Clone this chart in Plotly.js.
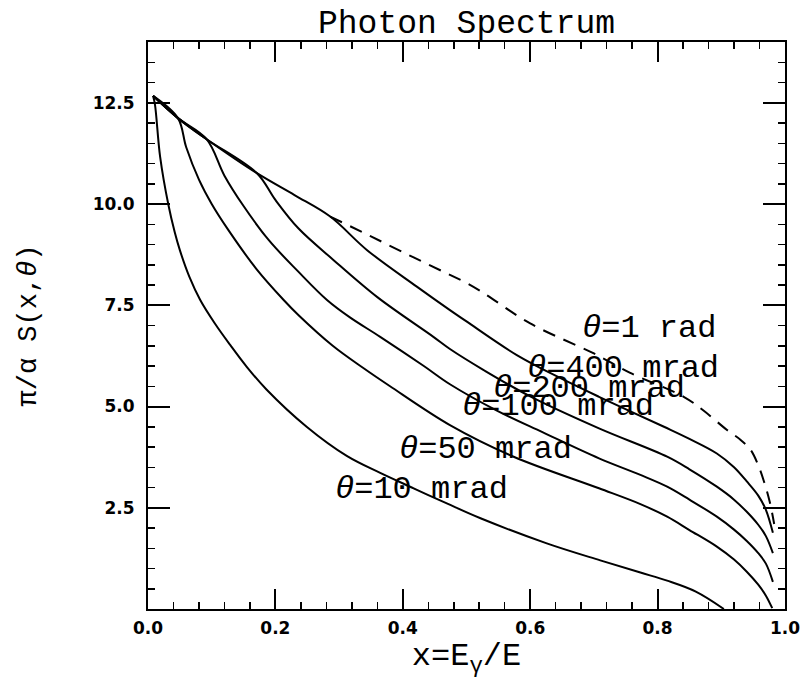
<!DOCTYPE html>
<html>
<head>
<meta charset="utf-8">
<script src="https://cdn.plot.ly/plotly-3.0.1.min.js"></script>
<style>body{margin:0;background:#fff;}#chart{width:804px;height:681px;}</style>
</head>
<body>
<div id="chart"></div>
<script>
// ---- data ----
const x10 = [0.008,0.011,0.019,0.032,0.042,0.050,0.065,0.082,0.105,0.129,0.155,0.186,0.249,0.312,0.3645,0.417,0.47,0.522,0.626,0.71,0.773,0.815,0.86,0.904];
const y10 = [12.67,12.45,11.17,9.98,9.3,8.86,8.2,7.63,7.05,6.52,5.98,5.42,4.5,3.78,3.36,2.98,2.6,2.24,1.62,1.2,0.9,0.7,0.43,0.0];

const x50 = [0.008,0.047,0.06,0.08,0.10,0.126,0.17,0.213,0.236,0.29,0.338,0.38,0.474,0.574,0.708,0.773,0.815,0.85,0.893,0.92,0.94,0.958,0.97,0.98];
const y50 = [12.67,12.12,11.4,10.6,10.0,9.36,8.4,7.63,7.26,6.5,5.95,5.5,4.54,3.76,2.98,2.59,2.28,1.95,1.54,1.22,0.92,0.6,0.33,0.02];

const x100 = [0.008,0.047,0.092,0.12,0.15,0.19,0.236,0.281,0.317,0.3645,0.433,0.474,0.55,0.62,0.708,0.773,0.815,0.85,0.893,0.92,0.94,0.958,0.97,0.981];
const y100 = [12.67,12.12,11.6,10.7,9.95,9.1,8.33,7.63,7.2,6.72,6.0,5.55,4.88,4.36,3.72,3.31,3.02,2.7,2.28,1.96,1.68,1.38,1.12,0.67];

const x200 = [0.008,0.047,0.092,0.171,0.2,0.236,0.291,0.36,0.448,0.474,0.527,0.6,0.708,0.815,0.85,0.893,0.92,0.94,0.958,0.97,0.981];
const y200 = [12.67,12.12,11.6,10.76,10.1,9.4,8.62,7.7,6.72,6.42,5.9,5.25,4.46,3.76,3.45,3.02,2.7,2.4,2.08,1.8,1.38];

const x400 = [0.008,0.047,0.092,0.171,0.23,0.286,0.344,0.422,0.474,0.50,0.579,0.65,0.708,0.81,0.85,0.893,0.92,0.94,0.958,0.97,0.981];
const y400 = [12.67,12.12,11.6,10.76,10.22,9.69,8.86,7.96,7.38,7.1,6.27,5.68,5.24,4.5,4.2,3.84,3.5,3.15,2.8,2.45,1.88];

const x1rad = [0.286,0.35,0.417,0.474,0.50,0.527,0.60,0.70,0.757,0.841,0.872,0.909,0.93,0.946,0.958,0.967,0.976,0.983];
const y1rad = [9.69,9.2,8.68,8.25,8.05,7.8,7.05,6.31,5.83,5.24,4.9,4.42,4.18,3.93,3.55,3.15,2.65,2.1];

const labelText = ["<i>θ</i>=1 rad","<i>θ</i>=400 mrad","<i>θ</i>=200 mrad","<i>θ</i>=100 mrad","<i>θ</i>=50 mrad","<i>θ</i>=10 mrad"];
const labelX = [0.787,0.745,0.693,0.644,0.53,0.43];
const labelY = [6.93,5.94,5.45,5.0,3.93,2.94];

const yTickVals = [2.5,5.0,7.5,10.0,12.5];
const yTickText = ["2.5","5.0","7.5","10.0","12.5"];

// ---- traces ----
function curve(xs, ys, dash){
  return {x:xs, y:ys, mode:'lines', showlegend:false, hoverinfo:'skip',
          line:{color:'#000', width:2, shape:'spline', smoothing:1.0, dash: dash || 'solid'}};
}
const traces = [
  curve(x10, y10), curve(x50, y50), curve(x100, y100),
  curve(x200, y200), curve(x400, y400), curve(x1rad, y1rad, '13px,9px')
];

const textFont = 'Liberation Mono';
const annotations = labelText.map((t,i)=>({
  x: labelX[i], y: labelY[i], xref:'x', yref:'y', text:t, showarrow:false,
  xanchor:'center', yanchor:'middle',
  font:{family:textFont, size:32, color:'#000'}
}));

const tickFont = {family:'DejaVu Sans', size:17, color:'#000', weight:'bold'};

const layout = {
  width:804, height:681,
  margin:{l:148, r:19, t:42, b:72},
  paper_bgcolor:'#fff', plot_bgcolor:'#fff',
  title:{text:'Photon Spectrum', font:{family:textFont, size:33, color:'#000'},
         x:0.5, xref:'paper', y:1-21/681, yref:'container', yanchor:'middle'},
  xaxis:{
    range:[0,1], dtick:0.2, tick0:0, tickformat:'.1f',
    ticks:'inside', ticklen:20, tickwidth:2, tickcolor:'#000',
    showline:true, linecolor:'#000', linewidth:2, mirror:'allticks',
    showgrid:false, zeroline:false,
    minor:{dtick:0.04, ticks:'inside', ticklen:7, tickwidth:1.5, tickcolor:'#000', showgrid:false},
    tickfont:tickFont, ticklabelstandoff:3,
    title:{text:'x=E<sub>γ</sub>/E', font:{family:textFont, size:32, color:'#000'}, standoff:4}
  },
  yaxis:{
    range:[0,14], tickmode:'array', tickvals:yTickVals, ticktext:yTickText,
    ticks:'inside', ticklen:22, tickwidth:2, tickcolor:'#000',
    showline:true, linecolor:'#000', linewidth:2, mirror:'allticks',
    showgrid:false, zeroline:false,
    minor:{tickmode:'linear', tick0:0, dtick:0.5, ticks:'inside', ticklen:7, tickwidth:1.5, tickcolor:'#000', showgrid:false},
    tickfont:tickFont, ticklabelstandoff:8,
    title:{text:'π/α S(x,<i>θ</i>)', font:{family:textFont, size:27, color:'#000'}, standoff:48}
  },
  annotations: annotations,
  showlegend:false
};

Plotly.newPlot('chart', traces, layout, {displayModeBar:false, staticPlot:true});
</script>
</body>
</html>
